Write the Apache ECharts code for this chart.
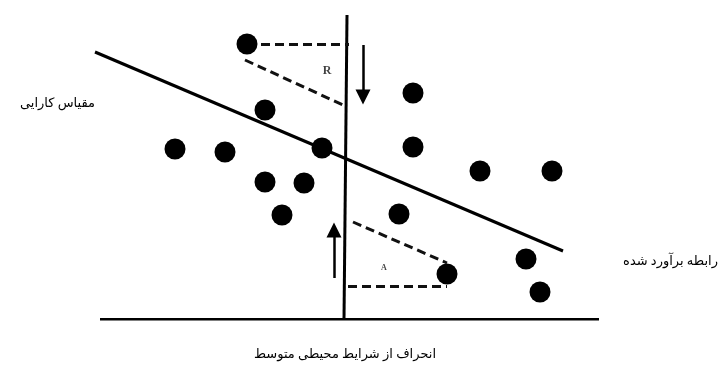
<!DOCTYPE html>
<html>
<head>
<meta charset="utf-8">
<script src="https://cdn.jsdelivr.net/npm/echarts@6/dist/echarts.min.js"></script>
<style>
  html, body { margin: 0; padding: 0; background: #fff; }
  #main { width: 722px; height: 368px; }
</style>
</head>
<body>
<div id="main"></div>
<script>
// observed points: [deviation, efficiency]
var points = [
  [-9.8, 27.5], [-8.0, 20.9], [-17.0, 17.0], [-12.0, 16.7], [-2.3, 17.1],
  [-8.0, 13.7], [-4.1, 13.6], [-6.3, 10.4], [6.8, 22.6], [6.8, 17.2],
  [13.5, 14.8], [20.7, 14.8], [5.4, 10.5], [10.2, 4.5], [18.1, 6.0], [19.5, 2.7]
];
// estimated relation
var fitLine = [[-25, 26.7], [21.8, 6.8]];
// axes drawn as lines
var baseLine = [[-24.5, 0], [25.4, 0]];
var midLine = [[0.2, 30.4], [-0.1, 0]];
// dashed helper lines
var dashB = [
  [[-9.8, 27.5], [0.4, 27.5]],
  [[-10.0, 25.9], [-0.2, 21.4]]
];
var dashA = [
  [[0.8, 9.7], [10.2, 5.6]],
  [[0.3, 3.3], [10.2, 3.3]]
];
// arrows
var arrows = [
  [[1.8, 27.4], [1.8, 22.2]],
  [[-1.1, 4.1], [-1.1, 8.9]]
];
var letterR = [{ name: 'R', value: [-1.8, 24.8] }];
var letterA = [{ name: 'A', value: [3.9, 5.1] }];

var chart = echarts.init(document.getElementById('main'), null, { renderer: 'canvas' });

function toLines(list) {
  return list.map(function (seg) { return { coords: seg }; });
}

var textFont = '13px "Liberation Serif", "DejaVu Sans"';

var option = {
  animation: false,
  grid: { left: 45, right: 77, top: 14, bottom: 49 },
  xAxis: { type: 'value', min: -30, max: 30, show: false },
  yAxis: { type: 'value', min: 0, max: 30.5, show: false },
  series: [
    {
      type: 'lines',
      coordinateSystem: 'cartesian2d',
      silent: true,
      lineStyle: { color: '#000', width: 3, opacity: 1 },
      data: toLines([fitLine, baseLine, midLine])
    },
    {
      type: 'lines',
      coordinateSystem: 'cartesian2d',
      silent: true,
      lineStyle: { color: '#111', width: 3, type: [9, 5], opacity: 1 },
      data: toLines(dashB.concat(dashA))
    },
    {
      type: 'lines',
      coordinateSystem: 'cartesian2d',
      silent: true,
      symbol: ['none', 'triangle'],
      symbolSize: [10, 15],
      lineStyle: { color: '#000', width: 2.5, opacity: 1 },
      data: toLines(arrows)
    },
    {
      type: 'scatter',
      symbol: 'circle',
      symbolSize: 21,
      itemStyle: { color: '#000', opacity: 1 },
      data: points
    },
    {
      type: 'scatter',
      symbolSize: 0,
      label: {
        show: true, formatter: '{b}', position: 'inside',
        fontFamily: 'Liberation Serif', fontWeight: 'bold', color: '#111', fontSize: 12
      },
      data: letterR
    },
    {
      type: 'scatter',
      symbolSize: 0,
      label: {
        show: true, formatter: '{b}', position: 'inside',
        fontFamily: 'Liberation Serif', fontWeight: 'bold', color: '#111', fontSize: 8
      },
      data: letterA
    }
  ],
  graphic: [
    {
      type: 'text', x: 95, y: 104,
      style: { text: 'مقیاس کارایی', font: textFont, fill: '#000', align: 'right', verticalAlign: 'middle' }
    },
    {
      type: 'text', x: 718, y: 262,
      style: { text: 'رابطه برآورد شده', font: textFont, fill: '#000', align: 'right', verticalAlign: 'middle' }
    },
    {
      type: 'text', x: 345, y: 355,
      style: { text: 'انحراف از شرایط محیطی متوسط', font: textFont, fill: '#000', align: 'center', verticalAlign: 'middle' }
    }
  ]
};
chart.setOption(option);
</script>
</body>
</html>
